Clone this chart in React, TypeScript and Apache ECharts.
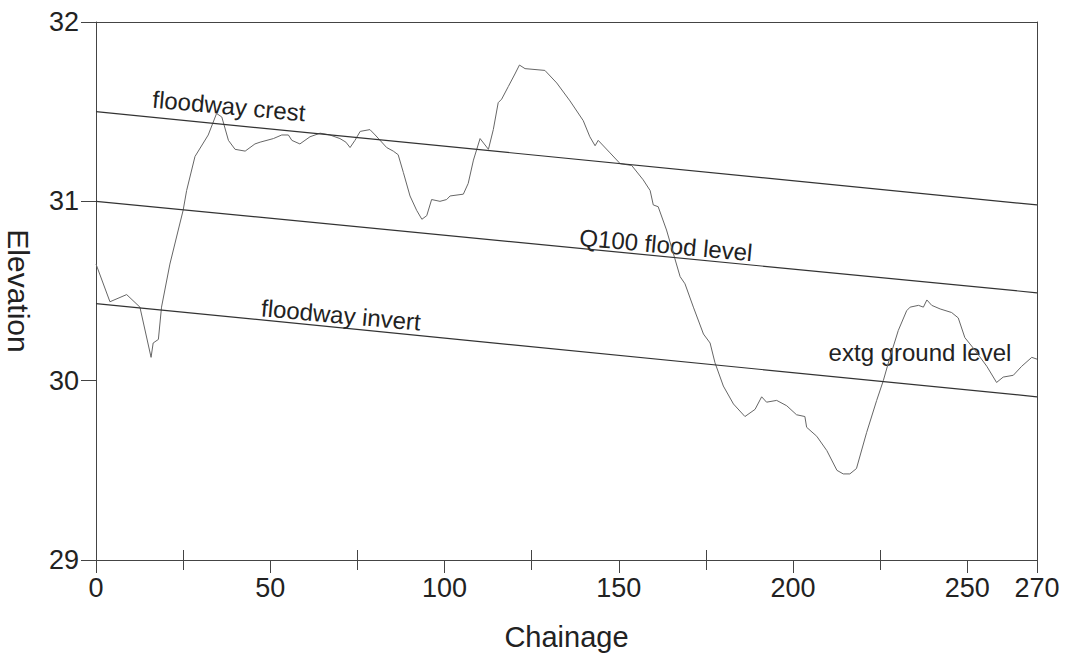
import React, { useEffect, useRef } from "react";
import * as echarts from "echarts";

const chainage = [
  0, 4.0, 8.8, 12.6, 15.8, 16.4, 17.9, 18.8, 21.2, 23.6, 25.0, 26.0, 28.4, 32.2, 34.6, 36.1, 38.0, 39.9,
  42.8, 45.6, 47.1, 50.9, 53.3, 55.2, 56.2, 58.5, 61.4, 64.3, 67.1, 70.0, 71.7, 72.9, 74.3, 75.8, 78.6,
  80.1, 83.4, 85.3, 86.7, 88.2, 90.1, 92.0, 93.5, 94.9, 96.3, 98.7, 100.6, 101.6, 105.4, 106.8, 108.3,
  110.2, 112.6, 114.0, 115.4, 116.4, 118.3, 120.2, 121.5, 123.1, 128.8, 132.2, 136.0, 139.8, 141.7,
  143.2, 144.1, 147.5, 150.4, 153.7, 157.0, 159.0, 159.9, 161.3, 163.7, 166.1, 167.6, 169.0, 171.4,
  174.3, 176.2, 177.6, 180.0, 182.9, 186.2, 189.1, 191.0, 192.4, 195.3, 198.2, 201.0, 203.4, 203.9,
  206.8, 209.7, 212.6, 214.4, 216.3, 218.2, 221.1, 224.0, 225.9, 227.8, 230.2, 232.6, 233.6, 236.0,
  237.4, 238.4, 239.8, 242.2, 245.5, 247.4, 249.3, 252.2, 255.6, 258.4, 260.3, 263.2, 265.6, 268.5, 270,
];
const groundLevel = [
  30.65, 30.44, 30.48, 30.41, 30.13, 30.21, 30.23, 30.41, 30.65, 30.84, 30.95, 31.06, 31.25, 31.37, 31.49,
  31.47, 31.34, 31.29, 31.28, 31.32, 31.33, 31.35, 31.37, 31.37, 31.34, 31.32, 31.36, 31.38, 31.37, 31.35,
  31.33, 31.30, 31.34, 31.39, 31.40, 31.37, 31.30, 31.28, 31.26, 31.16, 31.03, 30.95, 30.90, 30.92, 31.01,
  31.00, 31.01, 31.03, 31.04, 31.10, 31.23, 31.35, 31.29, 31.40, 31.55, 31.57, 31.64, 31.71, 31.76, 31.74,
  31.73, 31.66, 31.56, 31.45, 31.36, 31.31, 31.34, 31.27, 31.21, 31.20, 31.12, 31.06, 30.98, 30.97, 30.84,
  30.68, 30.58, 30.54, 30.41, 30.26, 30.21, 30.10, 29.97, 29.87, 29.80, 29.84, 29.91, 29.88, 29.89, 29.86,
  29.81, 29.80, 29.74, 29.69, 29.61, 29.50, 29.48, 29.48, 29.51, 29.71, 29.89, 30.00, 30.13, 30.28, 30.39,
  30.41, 30.42, 30.41, 30.45, 30.42, 30.40, 30.38, 30.35, 30.24, 30.17, 30.08, 29.99, 30.02, 30.03, 30.08,
  30.13, 30.12,
];
const lineEnds = [0, 270];
const floodwayCrest = [31.5, 30.98];
const q100FloodLevel = [31.0, 30.49];
const floodwayInvert = [30.43, 29.91];
const yTicks = [29, 30, 31, 32];

const FONT = "Liberation Sans";
const AXIS = "#444";
const TEXT = "#222";

export default function App() {
  const ref = useRef<HTMLDivElement>(null);
  useEffect(() => {
    document.body.style.margin = "0";
    const chart = echarts.init(ref.current!, null, { renderer: "svg" });
    const pair = (ys: number[]) => lineEnds.map((x, i) => [x, ys[i]]);
    const straight = (name: string, ys: number[]) => ({
      name,
      type: "line",
      data: pair(ys),
      showSymbol: false,
      lineStyle: { color: "#333", width: 1.2 },
      silent: true,
    });
    const labelStyle = (text: string) => ({
      text,
      fill: TEXT,
      fontSize: 24,
      fontFamily: FONT,
      align: "center",
      verticalAlign: "middle",
    });
    const frameAxis = (position: string, isX: boolean) => ({
      type: "value",
      position,
      min: isX ? 0 : yTicks[0],
      max: isX ? 270 : yTicks[yTicks.length - 1],
      axisLine: { show: true, onZero: false, lineStyle: { color: AXIS, width: 1 } },
      axisTick: { show: false },
      axisLabel: { show: false },
      splitLine: { show: false },
    });
    chart.setOption({
      animation: false,
      grid: {
        left: 96,
        right: 29,
        top: 22,
        bottom: 97,
        containLabel: false,
        outerBoundsMode: "none",
      },
      xAxis: [
        {
          type: "value",
          position: "bottom",
          min: 0,
          max: 270,
          interval: 50,
          name: "Chainage",
          nameLocation: "middle",
          nameGap: 62,
          nameTextStyle: { fontSize: 29, color: TEXT, fontFamily: FONT },
          axisLine: { show: true, lineStyle: { color: AXIS, width: 1 } },
          axisTick: { show: true, length: 13, lineStyle: { color: AXIS, width: 1 } },
          minorTick: { show: true, splitNumber: 2, length: 10, lineStyle: { color: AXIS, width: 1 } },
          axisLabel: { fontSize: 27, color: TEXT, margin: 14, fontFamily: FONT },
          splitLine: { show: false },
        },
        frameAxis("top", true),
        {
          type: "value",
          position: "bottom",
          min: 0,
          max: 270,
          interval: 50,
          axisLine: { show: false, onZero: false },
          axisTick: { show: false, inside: true },
          minorTick: { show: true, splitNumber: 2, length: 10, lineStyle: { color: AXIS, width: 1 } },
          axisLabel: { show: false },
          splitLine: { show: false },
        },
      ],
      yAxis: [
        {
          type: "value",
          position: "left",
          min: yTicks[0],
          max: yTicks[yTicks.length - 1],
          interval: 1,
          name: "Elevation",
          nameLocation: "middle",
          nameRotate: -90,
          nameGap: 63,
          nameTextStyle: { fontSize: 30, color: TEXT, fontFamily: FONT },
          axisLine: { show: true, lineStyle: { color: AXIS, width: 1 } },
          axisTick: { show: true, length: 15, lineStyle: { color: AXIS, width: 1 } },
          axisLabel: { fontSize: 27, color: TEXT, margin: 17, fontFamily: FONT },
          splitLine: { show: false },
        },
        frameAxis("right", false),
      ],
      series: [
        {
          name: "extg ground level",
          type: "line",
          data: chainage.map((c, i) => [c, groundLevel[i]]),
          showSymbol: false,
          lineStyle: { color: "#666", width: 1 },
          silent: true,
        },
        straight("floodway crest", floodwayCrest),
        straight("Q100 flood level", q100FloodLevel),
        straight("floodway invert", floodwayInvert),
      ],
      graphic: [
        { type: "text", x: 229, y: 106, rotation: -0.09, style: labelStyle("floodway crest") },
        { type: "text", x: 666, y: 245, rotation: -0.09, style: labelStyle("Q100 flood level") },
        { type: "text", x: 341, y: 315, rotation: -0.09, style: labelStyle("floodway invert") },
        { type: "text", x: 920, y: 352, style: labelStyle("extg ground level") },
      ],
    });
    return () => chart.dispose();
  }, []);
  return <div ref={ref} style={{ width: 1066, height: 657 }} />;
}
